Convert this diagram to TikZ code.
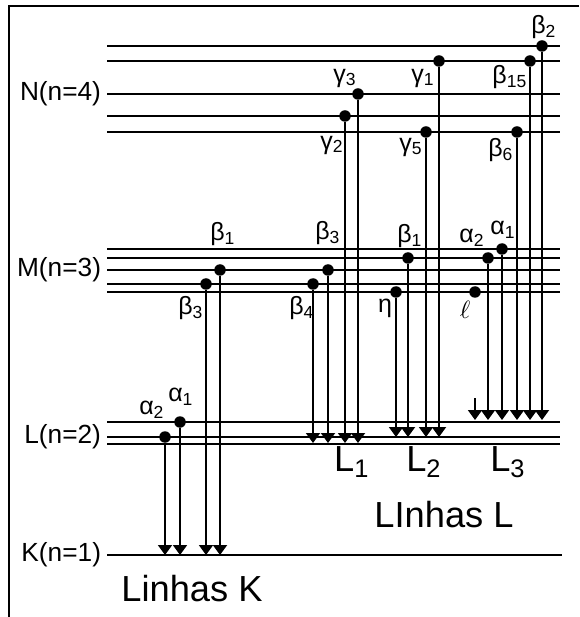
\documentclass[tikz,border=0pt]{standalone}
\usepackage{fontspec}
\setmainfont{Liberation Sans}
\usetikzlibrary{arrows.meta, positioning}

\tikzset{
  level/.style={line width=1.1pt},
  dot/.style={circle, fill=black, inner sep=0pt, minimum size=4.6pt},
  trans/.style={line width=0.75pt, -{Triangle[width=5.6pt,length=4pt]}},
  greek/.style={font=\fontsize{10}{12}\selectfont, inner sep=1pt},
  shell/.style={font=\fontsize{10.5}{12}\selectfont, anchor=east, inner sep=1pt},
  series/.style={font=\fontsize{14.5}{17}\selectfont, inner sep=0pt},
}

\begin{document}
\begin{tikzpicture}[x=0.4pt, y=-0.4pt]
  \useasboundingbox (0,0) rectangle (579,617);
  % frame (top and left edges only)
  \draw[line width=0.9pt] (579,6) -- (9,6) -- (9,617);
  % energy levels N, M, L
  \foreach \y in {46,61,94,116,132, 249,258,270,284,292, 422,437,444}
    \draw[level] (107,\y) -- (560,\y);
  % level K
  \draw[level] (107,555) -- (562,555);
  % shell labels
  \node[shell] (shN) at (104,94) {N(n=4)};
  \node[shell] (shM) at (104,270) {M(n=3)};
  \node[shell] (shL) at (104,437) {L(n=2)};
  \node[shell] (shK) at (104,555) {K(n=1)};

  % transitions: name/x/upper level/lower level
  \foreach \n/\x/\ya/\yb in {a2K/165/437/555, a1K/180/422/555, b3K/206/284/555, b1K/220/270/555,
      b4L1/313/284/443, b3L1/328/270/443, g2L1/345/116/443, g3L1/358/94/443,
      etaL2/396/292/437, b1L2/408/258/437, g5L2/426/132/437, g1L2/439/61/437,
      a2L3/488/258/420, a1L3/502/249/420, b6L3/517/132/420, b15L3/530/61/420, b2L3/542/46/420} {
    \node[dot] (\n) at (\x,\ya) {};
    \coordinate (\n-e) at (\x,\yb);
    \draw[trans] (\n) -- (\n-e);
  }
  % l line, only its lower part is printed
  \node[dot] (lL3) at (475,292) {};
  \coordinate (lL3-s) at (475,398);
  \coordinate (lL3-e) at (475,420);
  \draw[trans] (lL3-s) -- (lL3-e);

  % line labels
  \node[greek] (la2K) at (152,410) {α\textsubscript{2}};
  \node[greek] (la1K) at (181,397) {α\textsubscript{1}};
  \node[greek] (lb1K) at (223,234) {β\textsubscript{1}};
  \node[greek] (lb3K) at (191,308) {β\textsubscript{3}};
  \node[greek] (lb4L1) at (302,308) {β\textsubscript{4}};
  \node[greek] (lb3L1) at (328,233) {β\textsubscript{3}};
  \node[greek] (lg2L1) at (332,145) {γ\textsubscript{2}};
  \node[greek] (lg3L1) at (345,78) {γ\textsubscript{3}};
  \node[greek] (letaL2) at (385,308) {η};
  \node[greek] (lb1L2) at (410,236) {β\textsubscript{1}};
  \node[greek] (lg5L2) at (411,147) {γ\textsubscript{5}};
  \node[greek] (lg1L2) at (423,78) {γ\textsubscript{1}};
  \node[greek] (llL3) at (465,310) {$\ell$};
  \node[greek] (la2L3) at (472,238) {α\textsubscript{2}};
  \node[greek] (la1L3) at (503,230) {α\textsubscript{1}};
  \node[greek] (lb6L3) at (501,150) {β\textsubscript{6}};
  \node[greek] (lb15L3) at (510,77) {β\textsubscript{15}};
  \node[greek] (lb2L3) at (544,27) {β\textsubscript{2}};

  % series labels
  \node[series] (L1) at (352,462) {L\textsubscript{1}};
  \node[series] (L2) at (424,462) {L\textsubscript{2}};
  \node[series] (L3) at (508,462) {L\textsubscript{3}};
  \node[series] (serL) at (444,515) {LInhas L};
  \node[series] (serK) at (192,589) {Linhas K};
\end{tikzpicture}
\end{document}
